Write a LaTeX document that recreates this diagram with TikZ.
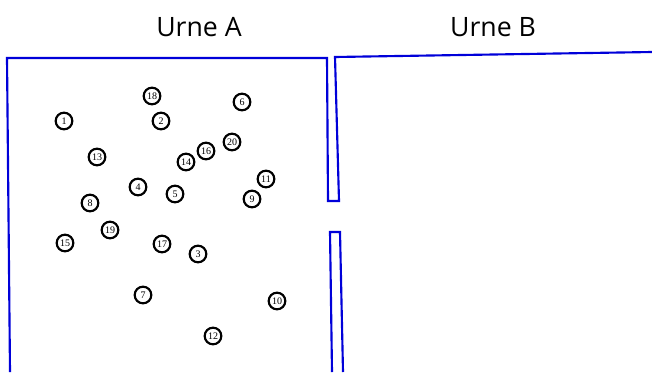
\documentclass[tikz,border=0pt]{standalone}
\usepackage{fontspec}
\setmainfont{Liberation Serif}
\newfontfamily\titlefont{Open Sans}
\begin{document}
\begin{tikzpicture}[x=0.75pt,y=-0.75pt,
  urn/.style={draw=blue!85!black,line width=1.6pt,line join=miter},
  ball/.style={circle,draw=black,line width=1.6pt,minimum size=12.5pt,inner sep=0pt,font=\fontsize{7.5}{8}\selectfont},
  title/.style={font=\titlefont\fontsize{20}{23}\selectfont}]
\useasboundingbox (0,0) rectangle (652,372);
\node[title] (ta) at (199,27) {Urne A};
\node[title] (tb) at (493,27) {Urne B};
% urn outlines
\draw[urn] (10,372) -- (7,58) -- (327,58) -- (328,201) -- (339,201) -- (335,57) -- (652,52);
\draw[urn] (332,372) -- (330,232) -- (340,232) -- (343,372);
% balls
\foreach \n/\x/\y in {18/152/96, 6/242/102, 1/64/121, 2/161/121, 20/232/142, 16/206/151,
  13/97/157, 14/186/162, 11/266/179, 4/138/187, 5/175/194, 8/90/203, 9/252/199,
  19/110/230, 15/65/243, 17/162/244, 3/198/254, 7/143/295, 10/277/301, 12/213/336}
  \node[ball] (b\n) at (\x,\y) {\n};
\end{tikzpicture}
\end{document}
